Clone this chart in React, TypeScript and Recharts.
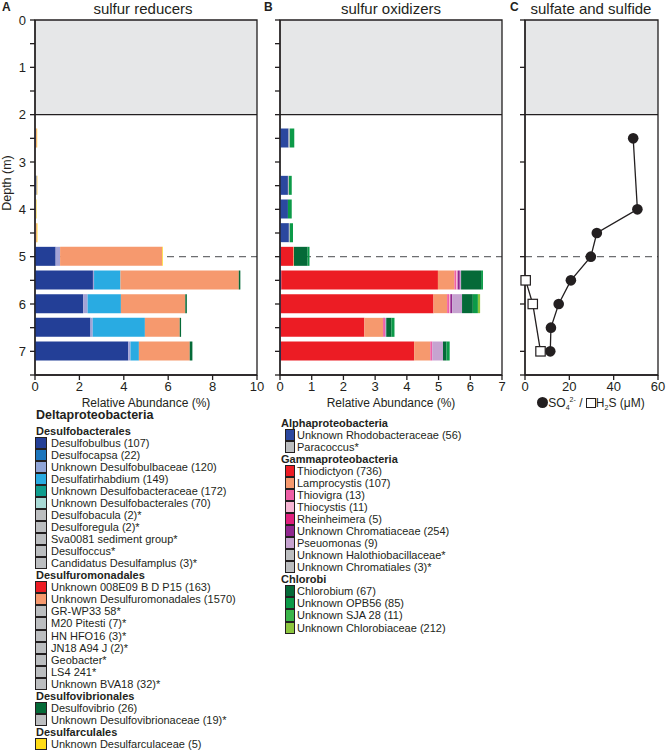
import React from 'react';
import { BarChart, Bar, XAxis, YAxis, ReferenceArea, ReferenceLine, ScatterChart, Scatter } from 'recharts';

const INK = '#231f20';
const FONT = '"Liberation Sans", Arial, Helvetica, sans-serif';

// sample depths (m)
const depths = [2.5, 3.5, 4, 4.5, 5, 5.5, 6, 6.5, 7];

// tick labels
const depthTicks = [0, 0.5, 1, 1.5, 2, 2.5, 3, 3.5, 4, 4.5, 5, 5.5, 6, 6.5, 7, 7.5];
const depthTicksC = [0, 1, 2, 3, 4, 5, 6, 7, 7.5];
const reducerTicks = [0, 2, 4, 6, 8, 10];
const oxidizerTicks = [0, 1, 2, 3, 4, 5, 6, 7];
const concTicks = [0, 20, 40, 60];

// A: sulfur reducers, relative abundance (%)
const desulfobulbus = [0.04, 0.05, 0.03, 0.03, 0.93, 2.61, 2.17, 2.5, 4.2];
const unkDesulfobulbaceae = [0, 0, 0, 0, 0.2, 0.05, 0.2, 0.1, 0.1];
const desulfatirhabdium = [0, 0, 0, 0, 0, 1.19, 1.5, 2.35, 0.38];
const unkDesulfobacteraceae = [0, 0.02, 0, 0, 0, 0, 0, 0, 0];
const unkDesulfuromonadales = [0.04, 0.03, 0.02, 0.05, 4.6, 5.33, 2.9, 1.57, 2.29];
const desulfovibrio = [0, 0, 0, 0, 0, 0.07, 0.07, 0.06, 0.12];
const unkDesulfarculaceae = [0.02, 0.01, 0.02, 0.03, 0.03, 0, 0, 0, 0];

// B: sulfur oxidizers, relative abundance (%)
const rhodobacteraceae = [0.27, 0.25, 0.25, 0.28, 0.03, 0.04, 0.02, 0.02, 0.03];
const paracoccus = [0.04, 0.03, 0, 0.03, 0, 0, 0, 0, 0];
const thiodictyon = [0, 0, 0, 0, 0.38, 4.94, 4.82, 2.64, 4.2];
const lamprocystis = [0, 0, 0, 0, 0.03, 0.52, 0.43, 0.59, 0.51];
const thiovigra = [0, 0, 0, 0, 0, 0.06, 0.06, 0.06, 0.06];
const thiocystis = [0, 0, 0, 0, 0, 0.04, 0.04, 0, 0];
const unkChromatiaceae = [0, 0, 0, 0, 0, 0.07, 0.06, 0, 0];
const pseuomonas = [0, 0, 0, 0, 0, 0.04, 0.31, 0.04, 0.34];
const chlorobium = [0, 0, 0, 0, 0.43, 0.63, 0.34, 0.16, 0.11];
const unkOPB56 = [0.14, 0.09, 0.12, 0.1, 0.06, 0.06, 0.16, 0.1, 0.1];
const unkChlorobiaceae = [0, 0, 0, 0, 0, 0, 0.07, 0, 0];

// C: sulfate and sulfide (µM)
const sulfateDepth = [2.5, 4, 4.5, 5, 5.5, 6, 6.5, 7];
const sulfate = [48.8, 50.7, 32.4, 29.7, 20.7, 15.2, 11.7, 11.4];
const sulfideDepth = [5.5, 6, 7];
const sulfide = [0.3, 3.5, 7];

const C = {
  desulfobulbus: '#233f97',
  desulfocapsa: '#1c75bc',
  unkBulb: '#a3a3d6',
  desulfatir: '#29abe2',
  teal: '#0f9d8e',
  paleTeal: '#a9dad6',
  gray: '#bcbec0',
  red: '#ec1c24',
  salmon: '#f6996e',
  dkgreen: '#056a38',
  yellow: '#ffdc16',
  rhodo: '#2b489f',
  thiovigra: '#ee5fa6',
  thiocystis: '#f7b5d3',
  rhein: '#e0207d',
  chromat: '#92278f',
  pseudo: '#c6a3d0',
  opb: '#0c9a48',
  sja: '#3ab54a',
  chlorobiaceae: '#8cc63f',
};

const reducerSeries = [
  { key: 'desulfobulbus', values: desulfobulbus, color: C.desulfobulbus },
  { key: 'unkDesulfobulbaceae', values: unkDesulfobulbaceae, color: C.unkBulb },
  { key: 'desulfatirhabdium', values: desulfatirhabdium, color: C.desulfatir },
  { key: 'unkDesulfobacteraceae', values: unkDesulfobacteraceae, color: C.teal },
  { key: 'unkDesulfuromonadales', values: unkDesulfuromonadales, color: C.salmon },
  { key: 'desulfovibrio', values: desulfovibrio, color: C.dkgreen },
  { key: 'unkDesulfarculaceae', values: unkDesulfarculaceae, color: C.yellow },
];

const oxidizerSeries = [
  { key: 'rhodobacteraceae', values: rhodobacteraceae, color: C.rhodo },
  { key: 'paracoccus', values: paracoccus, color: C.gray },
  { key: 'thiodictyon', values: thiodictyon, color: C.red },
  { key: 'lamprocystis', values: lamprocystis, color: C.salmon },
  { key: 'thiovigra', values: thiovigra, color: C.thiovigra },
  { key: 'thiocystis', values: thiocystis, color: C.thiocystis },
  { key: 'unkChromatiaceae', values: unkChromatiaceae, color: C.chromat },
  { key: 'pseuomonas', values: pseuomonas, color: C.pseudo },
  { key: 'chlorobium', values: chlorobium, color: C.dkgreen },
  { key: 'unkOPB56', values: unkOPB56, color: C.opb },
  { key: 'unkChlorobiaceae', values: unkChlorobiaceae, color: C.chlorobiaceae },
];

const toRows = (series: any[]) =>
  depths.map((d, i) => {
    const row: any = { depth: d };
    series.forEach(s => (row[s.key] = s.values[i]));
    return row;
  });

const reducerRows = toRows(reducerSeries);
const oxidizerRows = toRows(oxidizerSeries);
const sulfateRows = sulfateDepth.map((d, i) => ({ depth: d, conc: sulfate[i] }));
const sulfideRows = sulfideDepth.map((d, i) => ({ depth: d, conc: sulfide[i] }));

// legend rows: [kind, text, color]
const legendA: [string, string, string?][] = [
  ['h', 'Desulfobacterales'],
  ['i', 'Desulfobulbus (107)', C.desulfobulbus],
  ['i', 'Desulfocapsa (22)', C.desulfocapsa],
  ['i', 'Unknown Desulfobulbaceae (120)', '#8fa5d8'],
  ['i', 'Desulfatirhabdium (149)', C.desulfatir],
  ['i', 'Unknown Desulfobacteraceae (172)', C.teal],
  ['i', 'Unknown Desulfobacterales (70)', C.paleTeal],
  ['i', 'Desulfobacula (2)*', C.gray],
  ['i', 'Desulforegula (2)*', C.gray],
  ['i', 'Sva0081 sediment group*', C.gray],
  ['i', 'Desulfoccus*', C.gray],
  ['i', 'Candidatus Desulfamplus (3)*', C.gray],
  ['h', 'Desulfuromonadales'],
  ['i', 'Unknown 008E09 B D P15 (163)', C.red],
  ['i', 'Unknown Desulfuromonadales (1570)', C.salmon],
  ['i', 'GR-WP33 58*', C.gray],
  ['i', 'M20 Pitesti (7)*', C.gray],
  ['i', 'HN HFO16 (3)*', C.gray],
  ['i', 'JN18 A94 J (2)*', C.gray],
  ['i', 'Geobacter*', C.gray],
  ['i', 'LS4 241*', C.gray],
  ['i', 'Unknown BVA18 (32)*', C.gray],
  ['h', 'Desulfovibrionales'],
  ['i', 'Desulfovibrio (26)', C.dkgreen],
  ['i', 'Unknown Desulfovibrionaceae (19)*', C.gray],
  ['h', 'Desulfarculales'],
  ['i', 'Unknown Desulfarculaceae (5)', C.yellow],
];

const legendB: [string, string, string?][] = [
  ['h', 'Alphaproteobacteria'],
  ['i', 'Unknown Rhodobacteraceae (56)', C.rhodo],
  ['i', 'Paracoccus*', C.gray],
  ['h', 'Gammaproteobacteria'],
  ['i', 'Thiodictyon (736)', C.red],
  ['i', 'Lamprocystis (107)', C.salmon],
  ['i', 'Thiovigra (13)', C.thiovigra],
  ['i', 'Thiocystis (11)', C.thiocystis],
  ['i', 'Rheinheimera (5)', C.rhein],
  ['i', 'Unknown Chromatiaceae (254)', C.chromat],
  ['i', 'Pseuomonas (9)', C.pseudo],
  ['i', 'Unknown Halothiobacillaceae*', C.gray],
  ['i', 'Unknown Chromatiales (3)*', C.gray],
  ['h', 'Chlorobi'],
  ['i', 'Chlorobium (67)', C.dkgreen],
  ['i', 'Unknown OPB56 (85)', C.opb],
  ['i', 'Unknown SJA 28 (11)', C.sja],
  ['i', 'Unknown Chlorobiaceae (212)', C.chlorobiaceae],
];

const ROW = 12.05;

function Legend({ rows, left, firstCenter, swatchLeft, swatchW, textLeft }: any) {
  return (
    <>
      {rows.map((r: any, i: number) => {
        const top = firstCenter + i * ROW - ROW / 2;
        if (r[0] === 'h') {
          return (
            <div key={i} style={{ position: 'absolute', left, top, height: ROW, lineHeight: `${ROW}px`, fontSize: 11, fontWeight: 'bold', whiteSpace: 'nowrap' }}>
              {r[1]}
            </div>
          );
        }
        return (
          <React.Fragment key={i}>
            <div style={{ position: 'absolute', left: swatchLeft, top, width: swatchW, height: ROW, background: r[2], border: `1px solid ${INK}`, boxSizing: 'border-box' }} />
            <div style={{ position: 'absolute', left: textLeft, top, height: ROW, lineHeight: `${ROW}px`, fontSize: 11, whiteSpace: 'nowrap' }}>
              {r[1]}
            </div>
          </React.Fragment>
        );
      })}
    </>
  );
}

const depthFmt = (v: number) => (Number.isInteger(v) ? String(v) : '');

function StackPanel({ rows, series, xMax, xTicks, showDepth }: any) {
  return (
    <BarChart width={270} height={400} data={rows} layout="vertical" margin={{ top: 20, right: 13, bottom: 0, left: 0 }}>
      <ReferenceArea y1={0} y2={2} fill="#e6e7e8" fillOpacity={1} stroke="none" zIndex={-50} />
      <ReferenceLine y={5} stroke="#6d6e71" strokeDasharray="7 5" strokeWidth={1.3} zIndex={-40} />
      <XAxis
        type="number"
        domain={[0, xMax]}
        ticks={xTicks}
        interval={0}
        height={25}
        tickSize={5}
        tick={{ fontSize: 13, fill: INK }}
        stroke={INK}
        strokeWidth={1.3}
      />
      <YAxis
        type="number"
        dataKey="depth"
        domain={[0, 7.5]}
        ticks={depthTicks}
        interval={0}
        width={35}
        tickSize={5}
        tickMargin={4}
        tickFormatter={showDepth ? depthFmt : () => ''}
        tick={{ fontSize: 13, fill: INK }}
        stroke={INK}
        strokeWidth={1.3}
      />
      {series.map((s: any) => (
        <Bar key={s.key} dataKey={s.key} stackId="s" fill={s.color} barSize={19} isAnimationActive={false} />
      ))}
      <ReferenceLine y={2} stroke={INK} strokeWidth={1.3} />
      <ReferenceArea x1={0} x2={xMax} y1={0} y2={7.5} fill="none" fillOpacity={0} stroke={INK} strokeWidth={1.3} />
    </BarChart>
  );
}

const Dot = (p: any) => <circle cx={p.cx} cy={p.cy} r={5.3} fill={INK} />;
const Box = (p: any) => <rect x={p.cx - 4.7} y={p.cy - 4.7} width={9.4} height={9.4} fill="#fff" stroke={INK} strokeWidth={1.2} />;

function ChemPanel() {
  return (
    <ScatterChart width={180} height={400} margin={{ top: 20, right: 12, bottom: 0, left: 0 }}>
      <ReferenceArea y1={0} y2={2} fill="#e6e7e8" fillOpacity={1} stroke="none" zIndex={-50} />
      <ReferenceLine y={5} stroke="#6d6e71" strokeDasharray="7 5" strokeWidth={1.3} zIndex={-40} />
      <XAxis
        type="number"
        dataKey="conc"
        domain={[0, 60]}
        ticks={concTicks}
        interval={0}
        height={25}
        tickSize={5}
        tick={{ fontSize: 13, fill: INK }}
        stroke={INK}
        strokeWidth={1.3}
      />
      <YAxis
        type="number"
        dataKey="depth"
        domain={[0, 7.5]}
        reversed
        ticks={depthTicksC}
        interval={0}
        width={35}
        tickSize={5}
        tickFormatter={() => ''}
        stroke={INK}
        strokeWidth={1.3}
      />
      <ReferenceLine y={2} stroke={INK} strokeWidth={1.3} />
      <ReferenceArea x1={0} x2={60} y1={0} y2={7.5} fill="none" fillOpacity={0} stroke={INK} strokeWidth={1.3} />
      <Scatter data={sulfateRows} line={{ stroke: INK, strokeWidth: 1.3 }} shape={Dot} isAnimationActive={false} />
      <Scatter data={sulfideRows} line={{ stroke: INK, strokeWidth: 1.3 }} shape={Box} isAnimationActive={false} />
    </ScatterChart>
  );
}

const abs = (s: any): any => ({ position: 'absolute', ...s });

export default function App() {
  return (
    <div style={abs({ left: 0, top: 0, width: 666, height: 753, background: '#fff', fontFamily: FONT, color: INK, overflow: 'hidden' })}>
      <div style={abs({ left: 0, top: 0 })}>
        <StackPanel rows={reducerRows} series={reducerSeries} xMax={10} xTicks={reducerTicks} showDepth />
      </div>
      <div style={abs({ left: 245, top: 0 })}>
        <StackPanel rows={oxidizerRows} series={oxidizerSeries} xMax={7} xTicks={oxidizerTicks} showDepth={false} />
      </div>
      <div style={abs({ left: 490, top: 0 })}>
        <ChemPanel />
      </div>

      {/* panel letters and titles */}
      <div style={abs({ left: 2, top: 0, fontSize: 12, fontWeight: 'bold', lineHeight: '14px' })}>A</div>
      <div style={abs({ left: 264, top: 0, fontSize: 12, fontWeight: 'bold', lineHeight: '14px' })}>B</div>
      <div style={abs({ left: 510, top: 0, fontSize: 12, fontWeight: 'bold', lineHeight: '14px' })}>C</div>
      <div style={abs({ left: 43, width: 200, top: 0, textAlign: 'center', fontSize: 15, lineHeight: '17px' })}>sulfur reducers</div>
      <div style={abs({ left: 291, width: 200, top: 0, textAlign: 'center', fontSize: 15, lineHeight: '17px' })}>sulfur oxidizers</div>
      <div style={abs({ left: 491, width: 200, top: 0, textAlign: 'center', fontSize: 15, lineHeight: '17px' })}>sulfate and sulfide</div>

      {/* axis titles */}
      <div style={abs({ left: 7 - 40, top: 183 - 8, width: 80, height: 16, lineHeight: '16px', textAlign: 'center', fontSize: 12.5, transform: 'rotate(-90deg)' })}>Depth (m)</div>
      <div style={abs({ left: 46, width: 200, top: 397, textAlign: 'center', fontSize: 12, lineHeight: '12px' })}>Relative Abundance (%)</div>
      <div style={abs({ left: 291, width: 200, top: 397, textAlign: 'center', fontSize: 12, lineHeight: '12px' })}>Relative Abundance (%)</div>
      <div style={abs({ left: 491, width: 200, top: 397, textAlign: 'center', fontSize: 12, lineHeight: '12px', whiteSpace: 'nowrap' })}>
        <span style={{ display: 'inline-block', width: 11, height: 11, borderRadius: '50%', background: INK, verticalAlign: '-1px' }} />
        SO<span style={{ fontSize: 7, position: 'relative', top: 3 }}>4</span>
        <span style={{ fontSize: 7, position: 'relative', top: -5 }}>2-</span> /{' '}
        <span style={{ display: 'inline-block', width: 10, height: 10, border: `1px solid ${INK}`, boxSizing: 'border-box', verticalAlign: '-1px' }} />
        H<span style={{ fontSize: 7, position: 'relative', top: 3 }}>2</span>S (μM)
      </div>

      {/* legends */}
      <div style={abs({ left: 36, top: 409, fontSize: 12.5, fontWeight: 'bold', lineHeight: '13px' })}>Deltaproteobacteria</div>
      <Legend rows={legendA} left={36} firstCenter={430.7} swatchLeft={35} swatchW={12} textLeft={51} />
      <Legend rows={legendB} left={281} firstCenter={422.7} swatchLeft={285} swatchW={10} textLeft={297} />
    </div>
  );
}
